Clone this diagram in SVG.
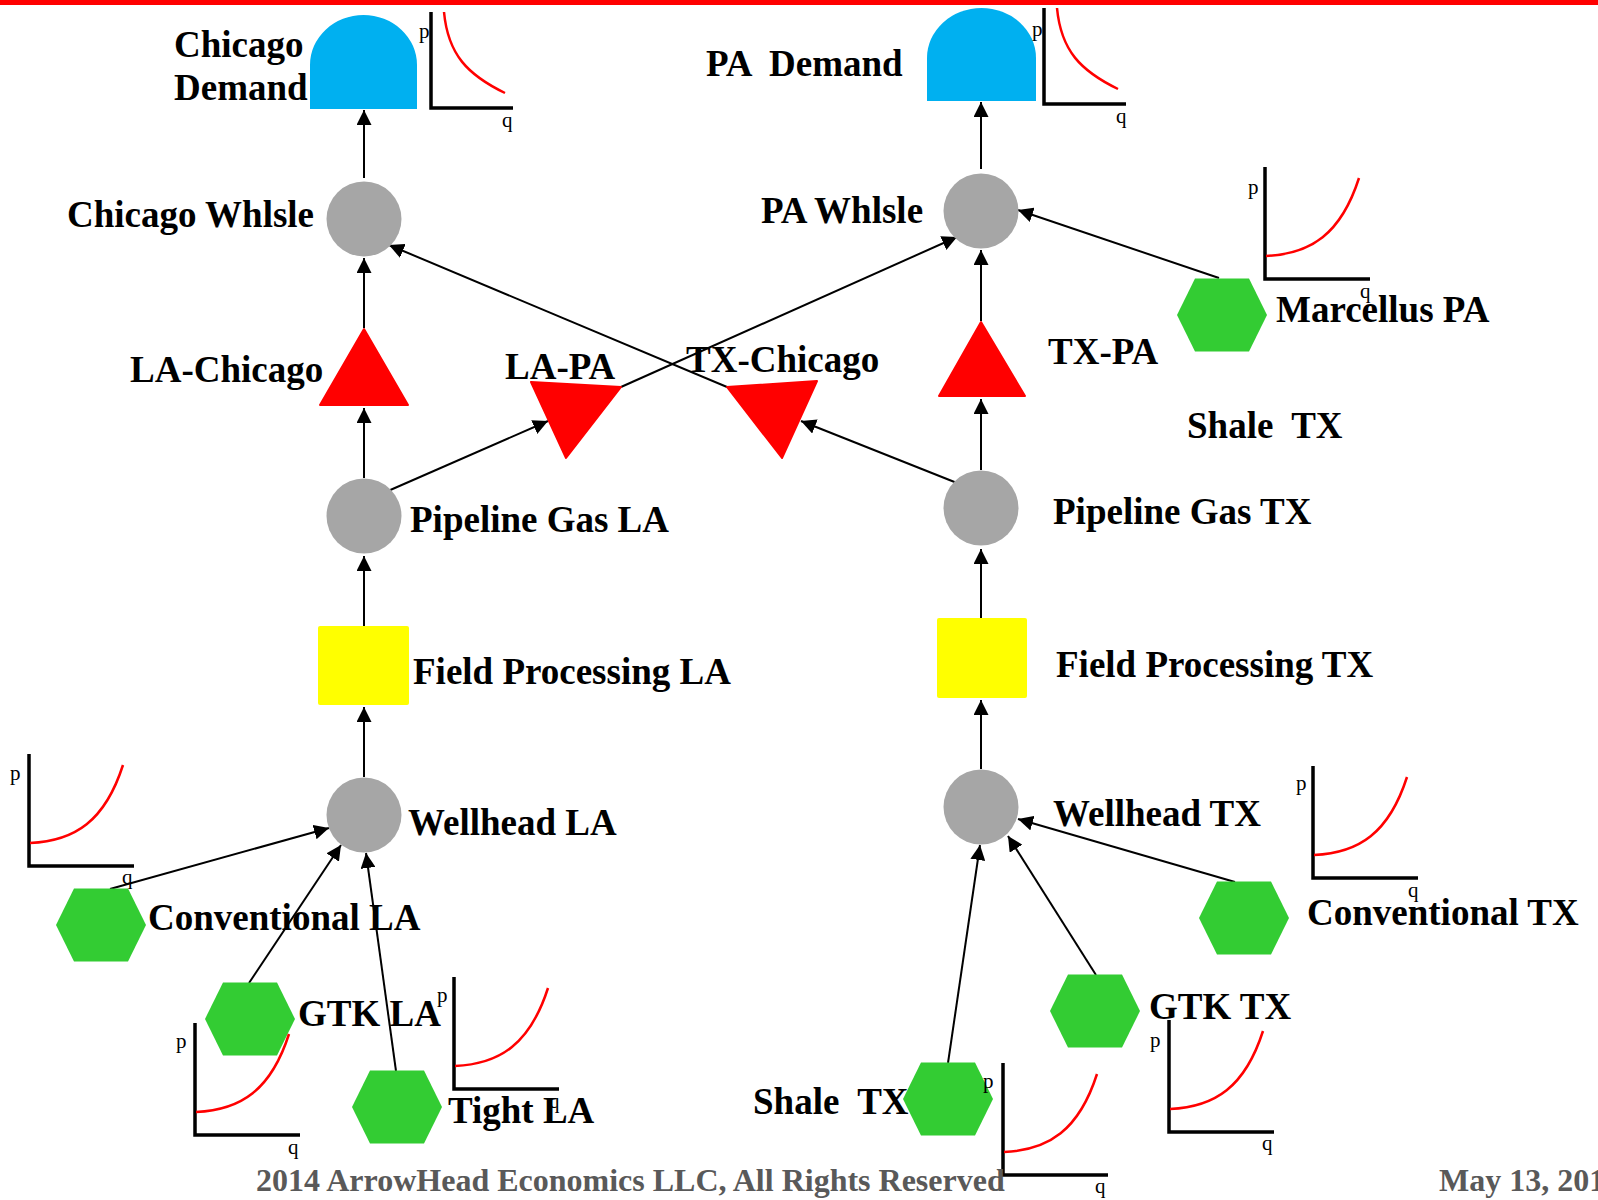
<svg xmlns="http://www.w3.org/2000/svg" xmlns:xlink="http://www.w3.org/1999/xlink" width="1598" height="1200" viewBox="0 0 1598 1200">
<style>
.lbl{font-family:"Liberation Serif","Times New Roman",serif;font-weight:bold;font-size:37px;fill:#000;white-space:pre}
.foot{font-family:"Liberation Serif","Times New Roman",serif;font-weight:bold;font-size:32px;fill:#595959;white-space:pre}
.pq{font-family:"Liberation Serif","Times New Roman",serif;font-size:21px;fill:#000}
.axis{fill:none;stroke:#000;stroke-width:3.5}
.curve{fill:none;stroke:#FF0000;stroke-width:2.5}
.edge{fill:none;stroke:#000;stroke-width:2;marker-end:url(#arr)}
.hub{fill:#A6A6A6}
.src{fill:#33CC33}
.arc{fill:#FF0000;stroke:#FF0000;stroke-width:2;stroke-linejoin:round}
.proc{fill:#FFFF00}
.dem{fill:#00B0F0}
</style>
<defs>
<marker id="arr" markerUnits="userSpaceOnUse" markerWidth="15" markerHeight="15" refX="15" refY="7.5" orient="auto">
<path d="M0,0 L15,7.5 L0,15 z" fill="#000"/>
</marker>
<polygon id="hex" points="-45,0 -27,-36.5 27,-36.5 45,0 27,36.5 -27,36.5"/>
<path id="supAxes" d="M0,0 V112 H105"/>
<path id="supCurve" d="M1,89 C46,87 76,67 94,11"/>
<path id="demAxes" d="M0,0 V96 H82"/>
<path id="demCurve" d="M13,0 C17,43 37,63 74,81"/>
</defs>

<rect x="0" y="0" width="1598" height="5" fill="#FF0000"/>

<g id="connectors">
<line class="edge" x1="364" y1="178" x2="364" y2="110"/>
<line class="edge" x1="364" y1="328" x2="364" y2="258"/>
<line class="edge" x1="364" y1="478" x2="364" y2="408"/>
<line class="edge" x1="364" y1="626" x2="364" y2="556"/>
<line class="edge" x1="364" y1="777" x2="364" y2="707"/>
<line class="edge" x1="981" y1="169" x2="981" y2="102"/>
<line class="edge" x1="981" y1="321" x2="981" y2="250"/>
<line class="edge" x1="981" y1="470" x2="981" y2="399"/>
<line class="edge" x1="981" y1="618" x2="981" y2="549"/>
<line class="edge" x1="981" y1="769" x2="981" y2="700"/>
<line class="edge" x1="1219" y1="278" x2="1018" y2="210"/>
<line class="edge" x1="621" y1="387" x2="957" y2="237"/>
<line class="edge" x1="727" y1="387" x2="389" y2="245"/>
<line class="edge" x1="388" y1="491" x2="548" y2="421"/>
<line class="edge" x1="957" y1="483" x2="801" y2="421"/>
<line class="edge" x1="110" y1="889" x2="329" y2="828"/>
<line class="edge" x1="249" y1="983" x2="341" y2="845"/>
<line class="edge" x1="396" y1="1071" x2="366" y2="853"/>
<line class="edge" x1="948" y1="1063" x2="980" y2="845"/>
<line class="edge" x1="1096" y1="975" x2="1008" y2="836"/>
<line class="edge" x1="1235" y1="882" x2="1018" y2="819"/>
</g>

<g id="chicago-demand">
<path class="dem" d="M310,109 V65 A53.5,50 0 0 1 417,65 V109 Z"/>
<text class="lbl" x="174" y="57">Chicago</text>
<text class="lbl" x="174" y="100">Demand</text>
<g transform="translate(431,12)">
<use href="#demAxes" class="axis"/>
<use href="#demCurve" class="curve"/>
<text class="pq" x="-12" y="26">p</text>
<text class="pq" x="71" y="115">q</text>
</g>
</g>

<g id="pa-demand">
<path class="dem" d="M927,101 V58 A54.5,50 0 0 1 1036,58 V101 Z"/>
<text class="lbl" x="706" y="76" xml:space="preserve">PA  Demand</text>
<g transform="translate(1044,8)">
<use href="#demAxes" class="axis"/>
<use href="#demCurve" class="curve"/>
<text class="pq" x="-12" y="28">p</text>
<text class="pq" x="72" y="115">q</text>
</g>
</g>

<g id="chicago-whlsle">
<circle class="hub" cx="364" cy="219" r="37.5"/>
<text class="lbl" x="67" y="227">Chicago Whlsle</text>
</g>

<g id="pa-whlsle">
<circle class="hub" cx="981" cy="211" r="37.5"/>
<text class="lbl" x="761" y="223">PA Whlsle</text>
</g>

<g id="la-chicago">
<polygon class="arc" points="364,329 320,405 408,405"/>
<text class="lbl" x="130" y="382">LA-Chicago</text>
</g>

<g id="la-pa">
<polygon class="arc" points="531,382 621,387 566,458"/>
<text class="lbl" x="505" y="379">LA-PA</text>
</g>

<g id="tx-chicago">
<polygon class="arc" points="727,387 817,381 782,458"/>
<text class="lbl" x="686" y="372">TX-Chicago</text>
</g>

<g id="tx-pa">
<polygon class="arc" points="981,322 939,396 1025,396"/>
<text class="lbl" x="1048" y="364">TX-PA</text>
</g>

<g id="marcellus-pa">
<use href="#hex" class="src" x="1222" y="315"/>
<text class="lbl" x="1276" y="322">Marcellus PA</text>
<g transform="translate(1265,167)">
<use href="#supAxes" class="axis"/>
<use href="#supCurve" class="curve"/>
<text class="pq" x="-17" y="27">p</text>
<text class="pq" x="95" y="131">q</text>
</g>
</g>

<g id="shale-tx-label">
<text class="lbl" x="1187" y="438" xml:space="preserve">Shale  TX</text>
</g>

<g id="pipeline-gas-la">
<circle class="hub" cx="364" cy="516" r="37.5"/>
<text class="lbl" x="410" y="532">Pipeline Gas LA</text>
</g>

<g id="pipeline-gas-tx">
<circle class="hub" cx="981" cy="508" r="37.5"/>
<text class="lbl" x="1053" y="524">Pipeline Gas TX</text>
</g>

<g id="field-processing-la">
<rect class="proc" x="318" y="626" width="91" height="79" rx="2"/>
<text class="lbl" x="413" y="684">Field Processing LA</text>
</g>

<g id="field-processing-tx">
<rect class="proc" x="937" y="618" width="90" height="80" rx="2"/>
<text class="lbl" x="1056" y="677">Field Processing TX</text>
</g>

<g id="wellhead-la">
<circle class="hub" cx="364" cy="815" r="37.5"/>
<text class="lbl" x="408" y="835">Wellhead LA</text>
</g>

<g id="wellhead-tx">
<circle class="hub" cx="981" cy="807" r="37.5"/>
<text class="lbl" x="1053" y="826">Wellhead TX</text>
</g>

<g id="conventional-la">
<use href="#hex" class="src" x="101" y="925"/>
<text class="lbl" x="148" y="930">Conventional LA</text>
<g transform="translate(29,754)">
<use href="#supAxes" class="axis"/>
<use href="#supCurve" class="curve"/>
<text class="pq" x="-19" y="26">p</text>
<text class="pq" x="93" y="130">q</text>
</g>
</g>

<g id="gtk-la">
<use href="#hex" class="src" x="250" y="1019"/>
<text class="lbl" x="298" y="1026">GTK LA</text>
<g transform="translate(195,1023)">
<use href="#supAxes" class="axis"/>
<use href="#supCurve" class="curve"/>
<text class="pq" x="-19" y="25">p</text>
<text class="pq" x="93" y="131">q</text>
</g>
</g>

<g id="tight-la">
<use href="#hex" class="src" x="397" y="1107"/>
<text class="lbl" x="448" y="1123">Tight LA</text>
<g transform="translate(454,977)">
<use href="#supAxes" class="axis"/>
<use href="#supCurve" class="curve"/>
<text class="pq" x="-17" y="25">p</text>
<text class="pq" x="95" y="131">q</text>
</g>
</g>

<g id="conventional-tx">
<use href="#hex" class="src" x="1244" y="918"/>
<text class="lbl" x="1307" y="925">Conventional TX</text>
<g transform="translate(1313,766)">
<use href="#supAxes" class="axis"/>
<use href="#supCurve" class="curve"/>
<text class="pq" x="-17" y="24">p</text>
<text class="pq" x="95" y="131">q</text>
</g>
</g>

<g id="gtk-tx">
<use href="#hex" class="src" x="1095" y="1011"/>
<text class="lbl" x="1149" y="1019">GTK TX</text>
<g transform="translate(1169,1020)">
<use href="#supAxes" class="axis"/>
<use href="#supCurve" class="curve"/>
<text class="pq" x="-19" y="27">p</text>
<text class="pq" x="93" y="130">q</text>
</g>
</g>

<g id="shale-tx">
<text class="lbl" x="753" y="1114" xml:space="preserve">Shale  TX</text>
<use href="#hex" class="src" x="948" y="1099"/>
<g transform="translate(1003,1063)">
<use href="#supAxes" class="axis"/>
<use href="#supCurve" class="curve"/>
<text class="pq" x="-20" y="25">p</text>
<text class="pq" x="92" y="130">q</text>
</g>
</g>

<g id="footer">
<text class="foot" x="256" y="1191">2014 ArrowHead Economics LLC, All Rights Reserved</text>
<text class="foot" x="1439" y="1191">May 13, 201</text>
</g>
</svg>
